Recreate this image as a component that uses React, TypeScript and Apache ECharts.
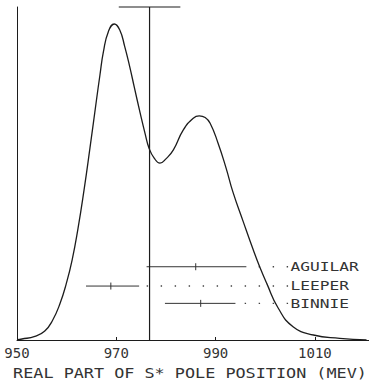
import React, { useEffect, useRef } from "react";
import * as echarts from "echarts";

// Probability curve for the S* pole position (arbitrary units, top of frame = 100)
const curveMeV = [
  950.0, 951.0, 953.6, 955.6, 957.2, 958.7, 959.9, 961.1, 962.3, 963.5, 964.7,
  966.0, 966.7, 967.4, 968.4, 969.6, 970.7, 971.7, 972.7, 973.6, 974.8, 975.8,
  976.6, 977.6, 978.8, 980.0, 981.5, 983.5, 985.5, 986.7, 987.9, 988.9, 990.5,
  992.1, 993.5, 995.6, 997.6, 998.9, 1000.3, 1002.6, 1005.6, 1009.7,
  1015.0, 1020.4,
];
const curveProb = [
  0.1, 0.3, 1.1, 2.7, 6.0, 11.1, 16.8, 24.0, 33.6, 45.0, 57.7,
  72.0, 79.5, 86.5, 92.6, 94.9, 93.1, 88.1, 82.1, 76.1, 68.2, 62.0,
  57.6, 54.7, 53.1, 54.4, 57.1, 63.1, 66.6, 67.3, 66.8, 65.1, 59.1,
  51.7, 44.4, 35.4, 27.0, 21.9, 17.0, 9.6, 4.0, 1.5,
  0.5, 0.0,
];

// S* pole estimate drawn as a tall cross
const sStarCenter = 976.7;
const sStarLow = 970.5;
const sStarHigh = 982.9;

// Experimental measurements
const experiments = ["AGUILAR", "LEEPER", "BINNIE"];
const expCenter = [986.0, 968.9, 987.0];
const expLow = [976.1, 963.9, 979.8];
const expHigh = [996.2, 974.6, 994.0];
const expRow = [22.0, 16.2, 11.0];
const labelAnchor = 1004.6;

const xTicks = [950, 970, 990, 1010];
const xTitle = "REAL PART OF S* POLE POSITION (MEV)";

const INK = "#1c1c1c";
const TEXT = "#333";
const MONO = '"DejaVu Sans Mono", "Liberation Mono", monospace';

export default function App() {
  const ref = useRef<HTMLDivElement>(null);

  useEffect(() => {
    document.body.style.margin = "0";
    const chart = echarts.init(ref.current!, null, { renderer: "svg" });

    const curve = curveMeV.map((x, i) => [x, curveProb[i]]);
    const bars = experiments.map((_, i) => [expLow[i], expRow[i], expCenter[i], expHigh[i]]);

    const dotted = experiments.map((name, i) => ({
      type: "line",
      name: name + "-dots",
      data: [
        [labelAnchor, expRow[i]],
        [expHigh[i], expRow[i]],
      ],
      symbol: "none",
      clip: false,
      lineStyle: { color: "#444", width: 1.4, type: [1.4, 12.6] },
      z: 3,
    }));

    const option: any = {
      animation: false,
      backgroundColor: "#ffffff",
      grid: { left: 17, right: 0, top: 7, bottom: 45 },
      xAxis: {
        type: "value",
        min: 950,
        max: 1020.9,
        axisLine: { show: true, lineStyle: { color: INK, width: 1 } },
        axisTick: {
          show: true,
          inside: true,
          length: 3,
          customValues: xTicks,
          lineStyle: { color: INK },
        },
        axisLabel: {
          show: true,
          customValues: xTicks,
          margin: 6,
          color: TEXT,
          fontFamily: MONO,
          fontSize: 14,
          formatter: (v: number) => String(v),
        },
        splitLine: { show: false },
      },
      yAxis: {
        type: "value",
        min: 0,
        max: 100,
        axisLine: { show: true, lineStyle: { color: INK, width: 1 } },
        axisTick: { show: false },
        axisLabel: { show: false },
        splitLine: { show: false },
      },
      series: [
        {
          type: "line",
          name: "curve",
          data: curve,
          smooth: 0.5,
          symbol: "none",
          clip: false,
          lineStyle: { color: INK, width: 1.3 },
          z: 4,
        },
        {
          type: "line",
          name: "sstar-vertical",
          data: [
            [sStarCenter, 0],
            [sStarCenter, 100],
          ],
          symbol: "none",
          clip: false,
          lineStyle: { color: INK, width: 1.2 },
          z: 4,
        },
        {
          type: "line",
          name: "sstar-bar",
          data: [
            [sStarLow, 100],
            [sStarHigh, 100],
          ],
          symbol: "none",
          clip: false,
          lineStyle: { color: INK, width: 1.2 },
          z: 4,
        },
        {
          type: "custom",
          name: "measurements",
          data: bars,
          encode: { x: [0, 2, 3], y: 1 },
          clip: false,
          z: 4,
          renderItem: (_params: any, api: any) => {
            const y = api.value(1);
            const lo = api.coord([api.value(0), y]);
            const c = api.coord([api.value(2), y]);
            const hi = api.coord([api.value(3), y]);
            return {
              type: "group",
              children: [
                {
                  type: "line",
                  shape: { x1: lo[0], y1: lo[1], x2: hi[0], y2: hi[1] },
                  style: { stroke: "#333", lineWidth: 1 },
                },
                {
                  type: "line",
                  shape: { x1: c[0], y1: c[1] - 3.5, x2: c[0], y2: c[1] + 3.5 },
                  style: { stroke: "#333", lineWidth: 1 },
                },
              ],
            };
          },
        },
        ...dotted,
      ],
    };

    chart.setOption(option);

    const labels = experiments.map((name, i) => {
      const p = chart.convertToPixel({ gridIndex: 0 }, [labelAnchor, expRow[i]]) as number[];
      return {
        type: "text",
        x: p[0] + 2.5,
        y: p[1],
        scaleX: 1.35,
        style: {
          text: name,
          fontFamily: MONO,
          fontSize: 12,
          fill: TEXT,
          align: "left",
          verticalAlign: "middle",
        },
      };
    });

    chart.setOption({
      graphic: [
        ...labels,
        {
          type: "text",
          x: 190,
          y: 373,
          scaleX: 1.2,
          style: {
            text: xTitle,
            fontFamily: MONO,
            fontSize: 14,
            fill: TEXT,
            align: "center",
            verticalAlign: "middle",
          },
        },
      ],
    });

    return () => chart.dispose();
  }, []);

  return (
    <div
      ref={ref}
      style={{ position: "fixed", left: 0, top: 0, width: 369, height: 385 }}
    />
  );
}
